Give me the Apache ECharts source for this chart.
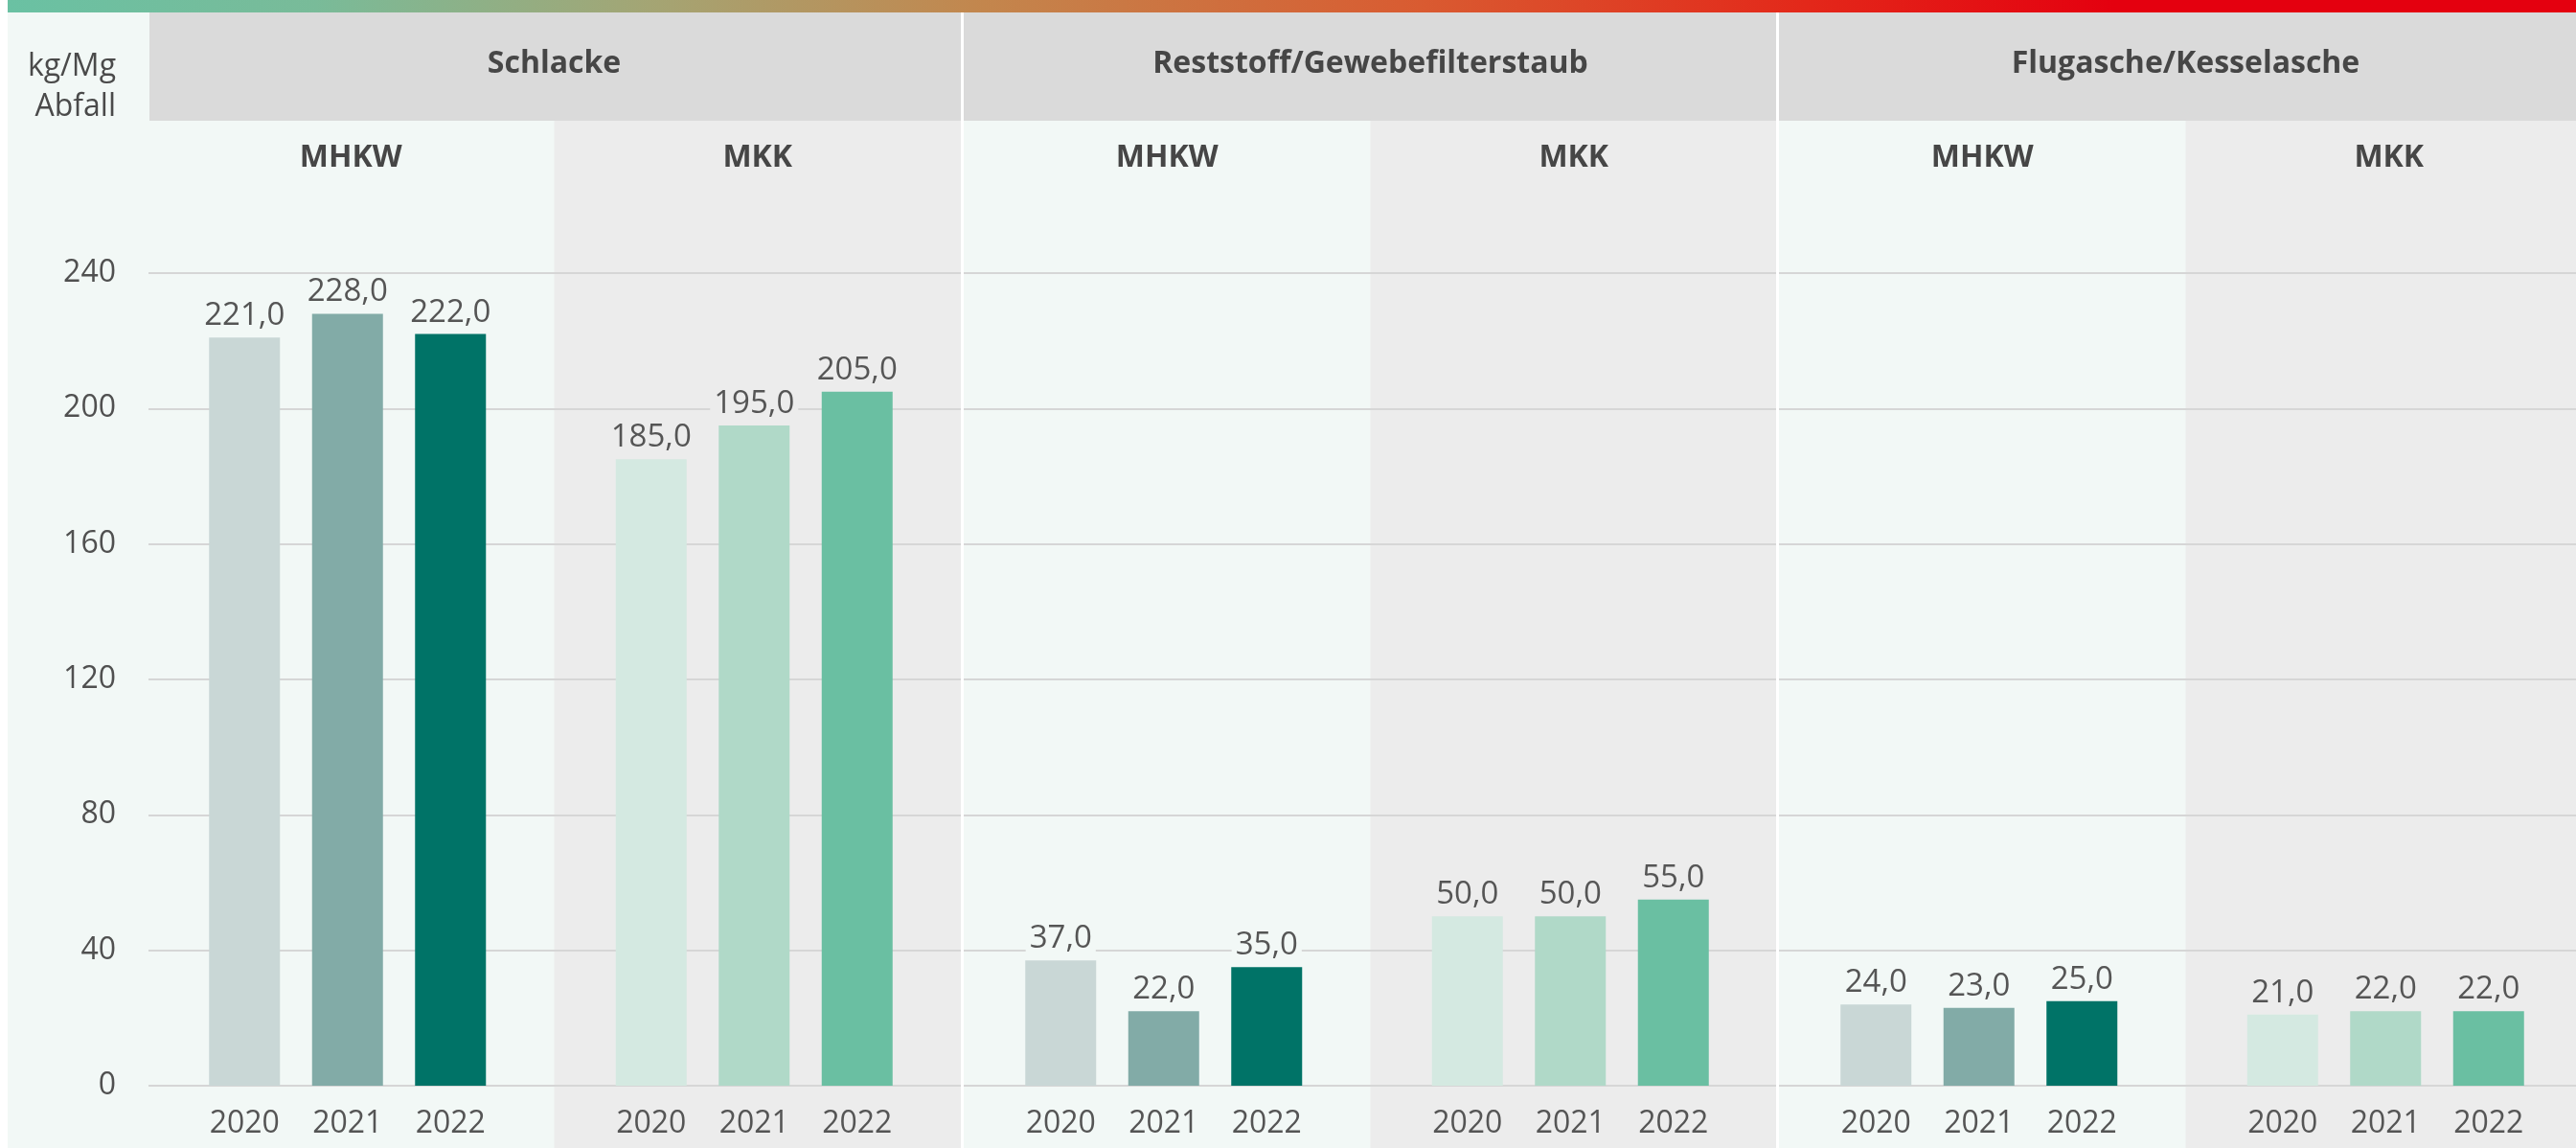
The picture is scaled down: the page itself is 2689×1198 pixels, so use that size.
<!DOCTYPE html>
<html>
<head>
<meta charset="utf-8">
<script src="https://cdn.jsdelivr.net/npm/echarts@6/dist/echarts.min.js"></script>
<style>
html, body { margin: 0; padding: 0; background: #fff; }
#chart { width: 2689px; height: 1198px; }
</style>
</head>
<body>
<div id="chart"></div>
<script>
// Daten
const years = ['2020', '2021', '2022'];
const sections = ['Schlacke', 'Reststoff/Gewebefilterstaub', 'Flugasche/Kesselasche'];
const plants = ['MHKW', 'MKK'];
const schlackeMHKW = [221, 228, 222];
const schlackeMKK = [185, 195, 205];
const reststoffMHKW = [37, 22, 35];
const reststoffMKK = [50, 50, 55];
const flugascheMHKW = [24, 23, 25];
const flugascheMKK = [21, 22, 22];
const yMin = 0, yMax = 240, yStep = 40;

const panelValues = [schlackeMHKW, schlackeMKK, reststoffMHKW, reststoffMKK, flugascheMHKW, flugascheMKK];

// Layout
const W = 2689, H = 1198;
const FONT = '"Open Sans", "Noto Sans", sans-serif';
const plotTop = 285, plotBottom = 1133;
const secLeft = [154, 1006, 1857];
const secW = 849;
const panelW = secW / 2;
const barColors = {
    MHKW: ['#c9d7d6', '#82aba7', '#007367'],
    MKK: ['#d4e9e1', '#b0d9c8', '#6abfa2']
};
const panelBg = { MHKW: '#f2f8f6', MKK: '#ececec' };

function fmt(v) {
    return v.toFixed(1).replace('.', ',');
}

let chart = echarts.init(document.getElementById('chart'), null, { renderer: 'canvas' });

let graphics = [];
// Farbverlauf oben
graphics.push({
    type: 'rect', z: -5, silent: true,
    shape: { x: 8, y: 0, width: W - 8, height: 13 },
    style: {
        fill: {
            type: 'linear', x: 0, y: 0, x2: 1, y2: 0,
            colorStops: [
                { offset: 0, color: '#6ac1a3' },
                { offset: 0.12, color: '#79bb99' },
                { offset: 0.25, color: '#a4a574' },
                { offset: 0.38, color: '#c3864d' },
                { offset: 0.55, color: '#d95b31' },
                { offset: 0.7, color: '#e3281a' },
                { offset: 0.82, color: '#e4000f' },
                { offset: 1, color: '#e4000f' }
            ]
        }
    }
});
// linke Spalte
graphics.push({
    type: 'rect', z: -10, silent: true,
    shape: { x: 8, y: 13, width: 150, height: H - 13 },
    style: { fill: panelBg.MHKW }
});
graphics.push({
    type: 'text', z: 10, silent: true,
    style: { x: 121, y: 70, text: 'kg/Mg', align: 'right', verticalAlign: 'middle', font: '32px ' + FONT, fill: '#4a4a4a' }
});
graphics.push({
    type: 'text', z: 10, silent: true,
    style: { x: 121, y: 112, text: 'Abfall', align: 'right', verticalAlign: 'middle', font: '32px ' + FONT, fill: '#4a4a4a' }
});

sections.forEach(function (name, s) {
    let x0 = s === 0 ? 156 : secLeft[s];
    graphics.push({
        type: 'rect', z: -10, silent: true,
        shape: { x: x0, y: 13, width: secW + (secLeft[s] - x0), height: 113 },
        style: { fill: '#dadada' }
    });
    graphics.push({
        type: 'text', z: 10, silent: true,
        style: { x: secLeft[s] + secW / 2, y: 67, text: name, align: 'center', verticalAlign: 'middle', font: 'bold 32px ' + FONT, fill: '#464646' }
    });
    plants.forEach(function (p, k) {
        let px = secLeft[s] + k * panelW;
        graphics.push({
            type: 'rect', z: -10, silent: true,
            shape: { x: px, y: 126, width: panelW + 1, height: H - 126 },
            style: { fill: panelBg[p] }
        });
        graphics.push({
            type: 'text', z: 10, silent: true,
            style: { x: px + panelW / 2, y: 165, text: p, align: 'center', verticalAlign: 'middle', font: 'bold 32px ' + FONT, fill: '#464646' }
        });
    });
    if (s > 0) {
        graphics.push({
            type: 'rect', z: 50, silent: true,
            shape: { x: secLeft[s] - 3, y: 13, width: 3, height: H - 13 },
            style: { fill: '#ffffff' }
        });
    }
});

// Achsen / Gitter
let grids = [{ left: 155, right: 0, top: plotTop, height: plotBottom - plotTop }];
let xAxes = [{ type: 'category', gridIndex: 0, data: [''], show: false }];
let yAxes = [{
    type: 'value', gridIndex: 0, min: yMin, max: yMax, interval: yStep,
    axisLine: { show: false }, axisTick: { show: false },
    axisLabel: { fontSize: 32, color: '#505050', fontFamily: FONT, margin: 34 },
    splitLine: { lineStyle: { color: '#d6d6d6', width: 2 } }
}];
let series = [];

panelValues.forEach(function (vals, i) {
    let s = Math.floor(i / 2), p = plants[i % 2];
    let px = secLeft[s] + (i % 2) * panelW;
    grids.push({ left: px + 47.5, width: 322.5, top: plotTop, height: plotBottom - plotTop });
    xAxes.push({
        type: 'category', gridIndex: i + 1, data: years,
        axisLine: { show: false }, axisTick: { show: false },
        axisLabel: { fontSize: 32, color: '#555555', fontFamily: FONT, margin: 24 }
    });
    yAxes.push({ type: 'value', gridIndex: i + 1, min: yMin, max: yMax, interval: yStep, show: false, splitLine: { show: false } });
    series.push({
        type: 'bar', name: sections[s] + ' ' + p,
        xAxisIndex: i + 1, yAxisIndex: i + 1,
        barWidth: 74,
        data: vals,
        itemStyle: { color: function (d) { return barColors[p][d.dataIndex]; } },
        label: {
            show: true, position: 'top', distance: 6,
            formatter: function (d) { return fmt(d.value); },
            fontSize: 33, color: '#555555', fontFamily: FONT,
            backgroundColor: panelBg[p], padding: [0, 4]
        },
        animation: false
    });
});

chart.setOption({
    animation: false,
    backgroundColor: '#ffffff',
    textStyle: { fontFamily: FONT },
    grid: grids,
    xAxis: xAxes,
    yAxis: yAxes,
    series: series,
    graphic: { elements: graphics }
});
</script>
</body>
</html>
